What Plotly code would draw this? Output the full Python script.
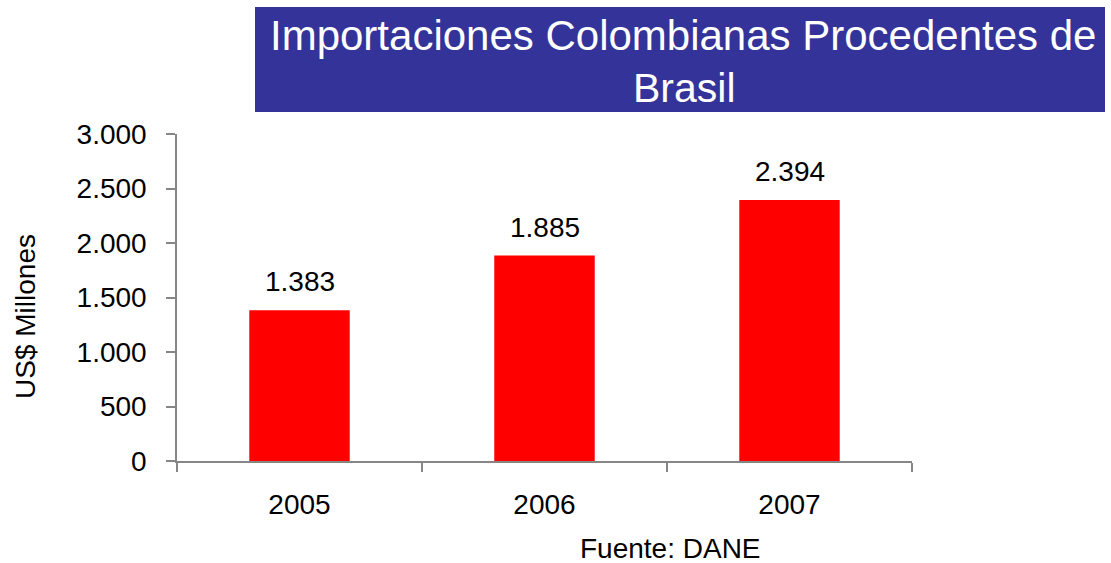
import plotly.graph_objects as go

years = ["2005", "2006", "2007"]
values = [1383, 1885, 2394]
y_ticks = [0, 500, 1000, 1500, 2000, 2500, 3000]

FONT = "Liberation Sans, Arial, sans-serif"
W, H = 1111, 563
L, R, T, B = 177, 199, 134, 102
pw, ph = W - L - R, H - T - B


def px_x(px):
    return (px - L) / pw


def px_y(py):
    return (H - B - py) / ph


fig = go.Figure()
fig.add_trace(go.Bar(
    x=years, y=values, marker=dict(color="#FF0000", line=dict(width=0)),
    hoverinfo="x+y",
))

for i, v in enumerate(values):
    fig.add_annotation(xref="x", yref="y", x=i, y=v,
                       text=f"{v:,}".replace(",", "."), showarrow=False,
                       yanchor="bottom", yshift=11,
                       font=dict(family=FONT, size=28, color="#000000"))

fig.update_layout(
    width=W, height=H, autosize=False,
    margin=dict(l=L, r=R, t=T, b=B),
    paper_bgcolor="white", plot_bgcolor="white",
    separators=",.",
    bargap=0.59,
    showlegend=False,
    font=dict(family=FONT, size=28, color="#000000"),
    xaxis=dict(
        type="category", range=[-0.5, 2.5],
        showline=True, linecolor="#868686", linewidth=1.5,
        ticks="outside", tickson="boundaries", ticklen=9, tickcolor="#868686", tickwidth=1.5,
        showgrid=False, ticklabelstandoff=18,
        tickfont=dict(family=FONT, size=28, color="#000000"),
    ),
    yaxis=dict(
        range=[0, 3000], tickvals=y_ticks, tickformat=",",
        showline=True, linecolor="#868686", linewidth=1.5,
        ticks="outside", ticklen=9, tickcolor="#868686", tickwidth=1.5,
        showgrid=False, zeroline=False, ticklabelstandoff=14,
        tickfont=dict(family=FONT, size=28, color="#000000"),
    ),
    shapes=[dict(
        type="rect", xref="paper", yref="paper",
        x0=px_x(255), x1=px_x(1105), y0=px_y(112), y1=px_y(7),
        fillcolor="#333399", line=dict(width=0), layer="above",
    )],
)

fig.add_annotation(
    xref="paper", yref="paper", x=px_x(683), y=px_y(36),
    text="Importaciones Colombianas Procedentes de",
    showarrow=False, xanchor="center", yanchor="middle",
    font=dict(family=FONT, size=42, color="white"),
)
fig.add_annotation(
    xref="paper", yref="paper", x=px_x(684), y=px_y(88),
    text="Brasil",
    showarrow=False, xanchor="center", yanchor="middle",
    font=dict(family=FONT, size=41, color="white"),
)
fig.add_annotation(
    xref="paper", yref="paper", x=px_x(25), y=px_y(317),
    text="US$ Millones", textangle=-90, showarrow=False,
    xanchor="center", yanchor="middle",
    font=dict(family=FONT, size=28, color="#000000"),
)
fig.add_annotation(
    xref="paper", yref="paper", x=px_x(670), y=px_y(548),
    text="Fuente: DANE", showarrow=False,
    xanchor="center", yanchor="middle",
    font=dict(family=FONT, size=28, color="#000000"),
)

fig.write_html("out.html", config={"displayModeBar": False},
               post_script="document.body.style.margin='0';")
